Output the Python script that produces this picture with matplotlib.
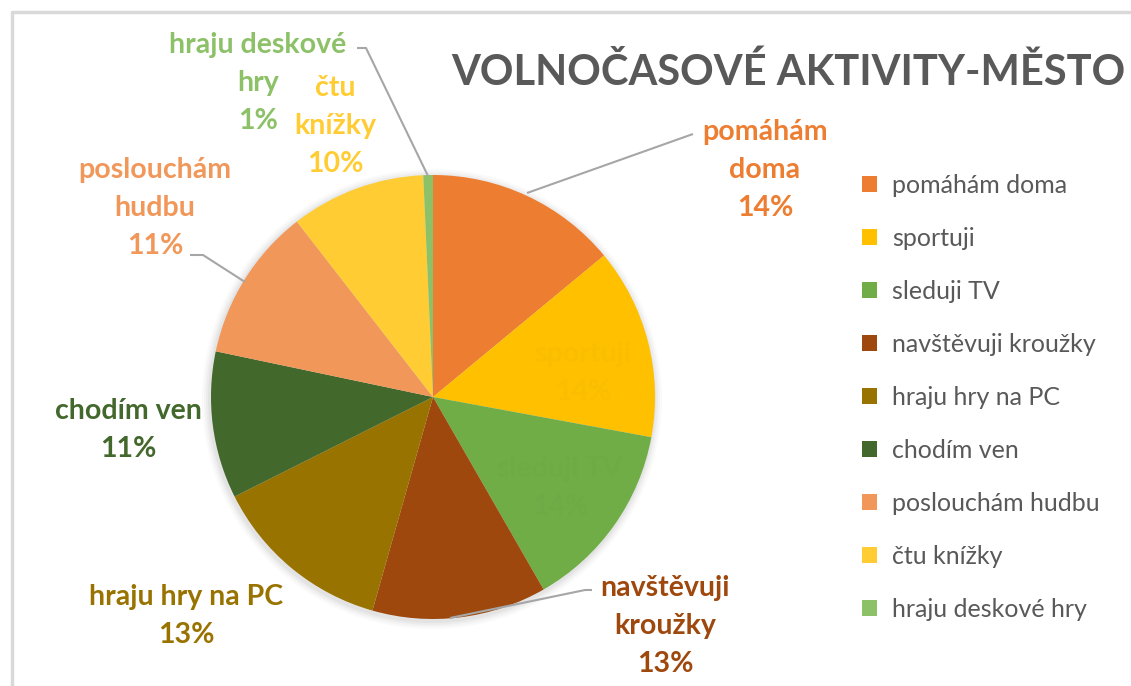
import matplotlib
matplotlib.use("Agg")
import matplotlib.pyplot as plt
from matplotlib.patches import Circle

categories = ["pomáhám doma", "sportuji", "sleduji TV", "navštěvuji kroužky",
              "hraju hry na PC", "chodím ven", "poslouchám hudbu", "čtu knížky",
              "hraju deskové hry"]
values = [14.0, 13.9, 13.8, 12.7, 13.2, 10.7, 11.2, 9.8, 0.7]
label_texts = ["pomáhám\ndoma", "sportuji", "sleduji TV", "navštěvuji\nkroužky",
               "hraju hry na PC", "chodím ven", "poslouchám\nhudbu", "čtu\nknížky",
               "hraju deskové\nhry"]
colors = ["#ED7D31", "#FFC000", "#70AD47", "#9E480E", "#997300", "#43682B",
          "#F1975A", "#FFCD33", "#8CC168"]
title = "VOLNOČASOVÉ AKTIVITY-MĚSTO"

W, H = 1131, 686
fig = plt.figure(figsize=(W / 100, H / 100), dpi=100)
ax = fig.add_axes([0, 0, 1, 1])

cx, cy, R = 433, H - 397, 222

# soft shadow
for i, a in enumerate([0.035, 0.03, 0.025, 0.02]):
    ax.add_patch(Circle((cx - 1, cy - 2), R + 2 + i * 2, color="black", alpha=a, lw=0, zorder=0))

wedges, _ = ax.pie(values, colors=colors, startangle=90, counterclock=False,
                   center=(cx, cy), radius=R, frame=False,
                   wedgeprops=dict(linewidth=0, zorder=1))
ax.set_xlim(0, W)
ax.set_ylim(0, H)
ax.set_aspect("equal")
ax.axis("off")

font = "Lato"
lfs = 20.5
line_h = 38  # pixel spacing between label lines

def pct(v):
    return f"{round(v):d}%"

# label positions (pixel coords, center of the label block)
label_pos = {
    0: (765, 170),
    1: (583, 373),
    2: (560, 488),
    3: (665, 626),
    4: (186, 616),
    5: (128, 430),
    6: (155, 208),
    7: (335, 126),
    8: (258, 83),
}
text_colors = list(colors)
text_colors[1] = "#FBBD00"
text_colors[2] = "#6EAA46"
for i, (x, y) in label_pos.items():
    lines_txt = (label_texts[i] + "\n" + pct(values[i])).split("\n")
    n = len(lines_txt)
    for k, t in enumerate(lines_txt):
        yy = y + (k - (n - 1) / 2) * line_h
        ax.text(x, H - yy, t, ha="center", va="center",
                fontsize=lfs, fontweight="bold", color=text_colors[i], family=font,
                zorder=5)

lc = "#A6A6A6"
leaders = [
    [(527, 193), (693, 134)],
    [(450, 618), (585, 590), (592, 590)],
    [(190, 255), (203, 255), (245, 282)],
    [(357, 48), (366, 48), (428, 176)],
]
for pts in leaders:
    xs = [p[0] for p in pts]
    ys = [H - p[1] for p in pts]
    ax.plot(xs, ys, color=lc, lw=1.5, zorder=4, solid_capstyle="butt")

# title
ax.text(1125, H - 72, title, ha="right", va="center", fontsize=30,
        fontweight="bold", color="#595959", family=font)

# legend
leg = ax.legend(wedges, categories, loc="upper left",
                bbox_to_anchor=(862 / W, 1 - 174 / H), frameon=False,
                prop=dict(family=font, size=18), labelcolor="#595959",
                handlelength=0.6, handleheight=0.6, handletextpad=0.6,
                labelspacing=1.2, borderpad=0, borderaxespad=0)

# chart border (partially visible)
ax.plot([12, 12, W], [0, H - 12, H - 12], color="#D9D9D9", lw=2.5, zorder=0)

fig.savefig("out.png", dpi=100)
